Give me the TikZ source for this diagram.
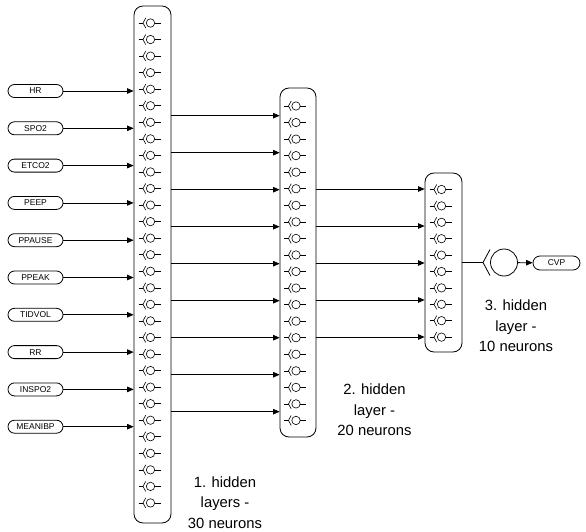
\documentclass[tikz,border=0pt]{standalone}
\usepackage{fontspec}
\setmainfont{Liberation Sans}
\usetikzlibrary{arrows.meta,shapes.misc}
\begin{document}
\begin{tikzpicture}[x=1pt,y=-1pt,
  layerbox/.style={draw,rounded corners=9pt,line width=0.8pt,inner sep=0pt},
  inbox/.style={draw,rounded rectangle,minimum width=55pt,minimum height=13pt,inner sep=0pt,font=\fontsize{8.5}{10}\selectfont,line width=0.8pt},
  conn/.style={line width=0.8pt,-{Triangle[length=6.5pt,width=5.5pt]}},
  neur/.style={line width=0.6pt},
  lbl/.style={align=center,font=\fontsize{14.8}{20.6}\selectfont},
  neuron/.pic={
    \draw[neur] (-12,0) -- (-7.5,0);
    \draw[neur] (-4.8,-5) .. controls (-6.5,-2.5) .. (-7.5,0) .. controls (-6.5,2.5) .. (-4.8,5);
    \draw[neur] (0,0) circle (4.2);
    \draw[neur] (4.2,0) -- (10,0);
  }
]
\useasboundingbox (0,0) rectangle (586,532);

% layer boxes
\node[layerbox,minimum width=37pt,minimum height=517pt] (L1) at (152.5,264.5) {};
\node[layerbox,minimum width=36pt,minimum height=349pt] (L2) at (298,262.5) {};
\node[layerbox,minimum width=37pt,minimum height=179pt] (L3) at (443.5,262.5) {};

% neurons
\foreach \i in {0,...,29} \pic at (150.5,23+16.55*\i) {neuron};
\foreach \i in {0,...,19} \pic at (296,106+16.55*\i) {neuron};
\foreach \i in {0,...,9} \pic at (441.5,189.5+16.4*\i) {neuron};

% inputs
\foreach \t [count=\k from 0] in {HR,SPO2,ETCO2,PEEP,PPAUSE,PPEAK,TIDVOL,RR,INSPO2,MEANIBP} {
  \node[inbox] (in\k) at (35.5,91+37.3*\k) {\t};
  \draw[conn] (in\k.east) -- (in\k.east -| L1.west);
}

% layer 1 -> layer 2
\foreach \k in {0,...,8} {
  \coordinate (a\k) at (L1.east |- 0,115.7+37.0*\k);
  \draw[conn] (a\k) -- (a\k -| L2.west);
}

% layer 2 -> layer 3
\foreach \k in {0,...,4} {
  \coordinate (b\k) at (L2.east |- 0,189+37.0*\k);
  \draw[conn] (b\k) -- (b\k -| L3.west);
}

% output neuron
\coordinate (otip) at (483,262.5);
\node[draw,circle,minimum size=27pt,inner sep=0pt,line width=0.8pt] (out) at (504,262.5) {};
\draw[line width=0.8pt] (L3.east |- otip) -- (otip);
\draw[line width=0.8pt] (490,249.5) .. controls (486,256) .. (otip) .. controls (486,269) .. (490,275.5);
\node[inbox,minimum width=47pt,minimum height=14pt] (cvp) at (556.5,263) {CVP};
\draw[conn] (out) -- (cvp);

% labels
\node[lbl] (t1) at (225,502.5) {1. hidden\\layers -\\30 neurons};
\node[lbl] (t2) at (374.5,410) {2. hidden\\layer -\\20 neurons};
\node[lbl] (t3) at (516,326) {3. hidden\\layer -\\10 neurons};
\end{tikzpicture}
\end{document}
